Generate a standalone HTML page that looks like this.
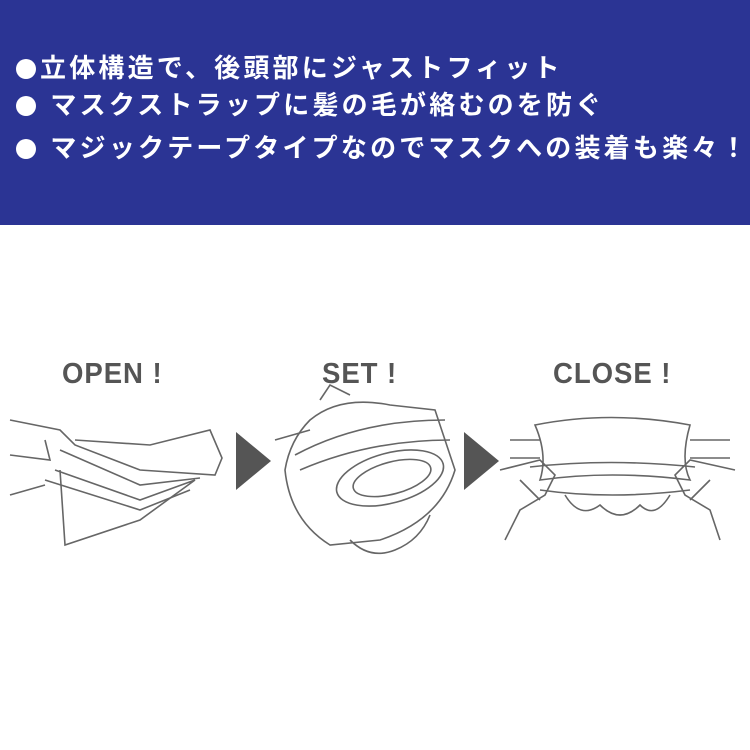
<!DOCTYPE html>
<html><head><meta charset="utf-8"><style>
body{margin:0;width:750px;height:750px;background:#fff;overflow:hidden;position:relative;font-family:"Liberation Sans","Noto Sans CJK JP",sans-serif}
#b{position:absolute;left:0;top:0;width:750px;height:225px;background:#2b3494}
.l{position:absolute;left:16px;color:#fff;font-weight:bold;font-size:26px;letter-spacing:3.2px;white-space:nowrap;line-height:30px}
.l i{display:inline-block;width:20px;height:20px;border-radius:50%;background:#fff;margin-right:4px;vertical-align:-2px}
.t{position:absolute;color:#555;font-weight:bold;font-size:29px;top:358px;letter-spacing:1px;transform:scaleX(0.95);transform-origin:left}
</style></head><body>
<div id="b"></div>
<div class="l" style="top:53px"><i></i>立体構造で、後頭部にジャストフィット</div>
<div class="l" style="top:90px"><i></i> マスクストラップに髪の毛が絡むのを防ぐ</div>
<div class="l" style="top:133px"><i></i> マジックテープタイプなのでマスクへの装着も楽々！</div>
<div class="t" style="left:62px">OPEN !</div>
<div class="t" style="left:322px">SET !</div>
<div class="t" style="left:553px">CLOSE !</div>
<svg width="750" height="750" style="position:absolute;left:0;top:0" fill="none" stroke="#666" stroke-width="1.6">
<polygon points="236,432 271,461 236,490" fill="#555" stroke="none"/>
<polygon points="464,432 499,461 464,490" fill="#555" stroke="none"/>
<path d="M10,420 L60,430 L75,445 L140,470 L215,475 L222,458 L210,430 L150,445 L75,440"/>
<path d="M60,450 L140,485 L200,478"/>
<path d="M55,470 L140,500 L195,480 L140,520 L65,545 L60,470"/>
<path d="M45,480 L140,510 L190,490"/>
<path d="M10,455 L50,460 L45,440 M10,495 L45,485"/>
<path d="M310,420 Q340,395 390,405 L435,410 L455,470 Q440,520 380,540 L330,545 Q290,520 285,470 Q290,440 310,420Z"/>
<path d="M295,455 Q360,420 445,420 M300,470 Q370,440 450,440"/>
<ellipse cx="390" cy="478" rx="55" ry="25" transform="rotate(-15 390 478)"/>
<ellipse cx="392" cy="478" rx="40" ry="16" transform="rotate(-15 392 478)"/>
<path d="M350,540 Q370,560 395,550 Q420,540 430,515"/>
<path d="M275,440 L310,430 M320,400 L330,385 L350,395"/>
<path d="M535,425 Q610,410 690,425 Q680,460 690,480 Q610,470 540,480 Q548,455 535,425Z"/>
<path d="M530,467 Q610,458 695,467 M540,490 Q610,500 690,490"/>
<path d="M510,440 L540,440 M690,440 L730,440 M510,458 L540,458 M690,458 L730,458"/>
<path d="M500,470 L540,460 L555,475 L545,495 L520,510 L505,540 M520,480 L540,500"/>
<path d="M735,470 L690,460 L675,475 L685,495 L710,510 L720,540 M710,480 L690,500"/>
<path d="M565,495 Q580,520 600,505 Q620,525 640,505 Q655,520 670,495"/>
</svg>
</body></html>
